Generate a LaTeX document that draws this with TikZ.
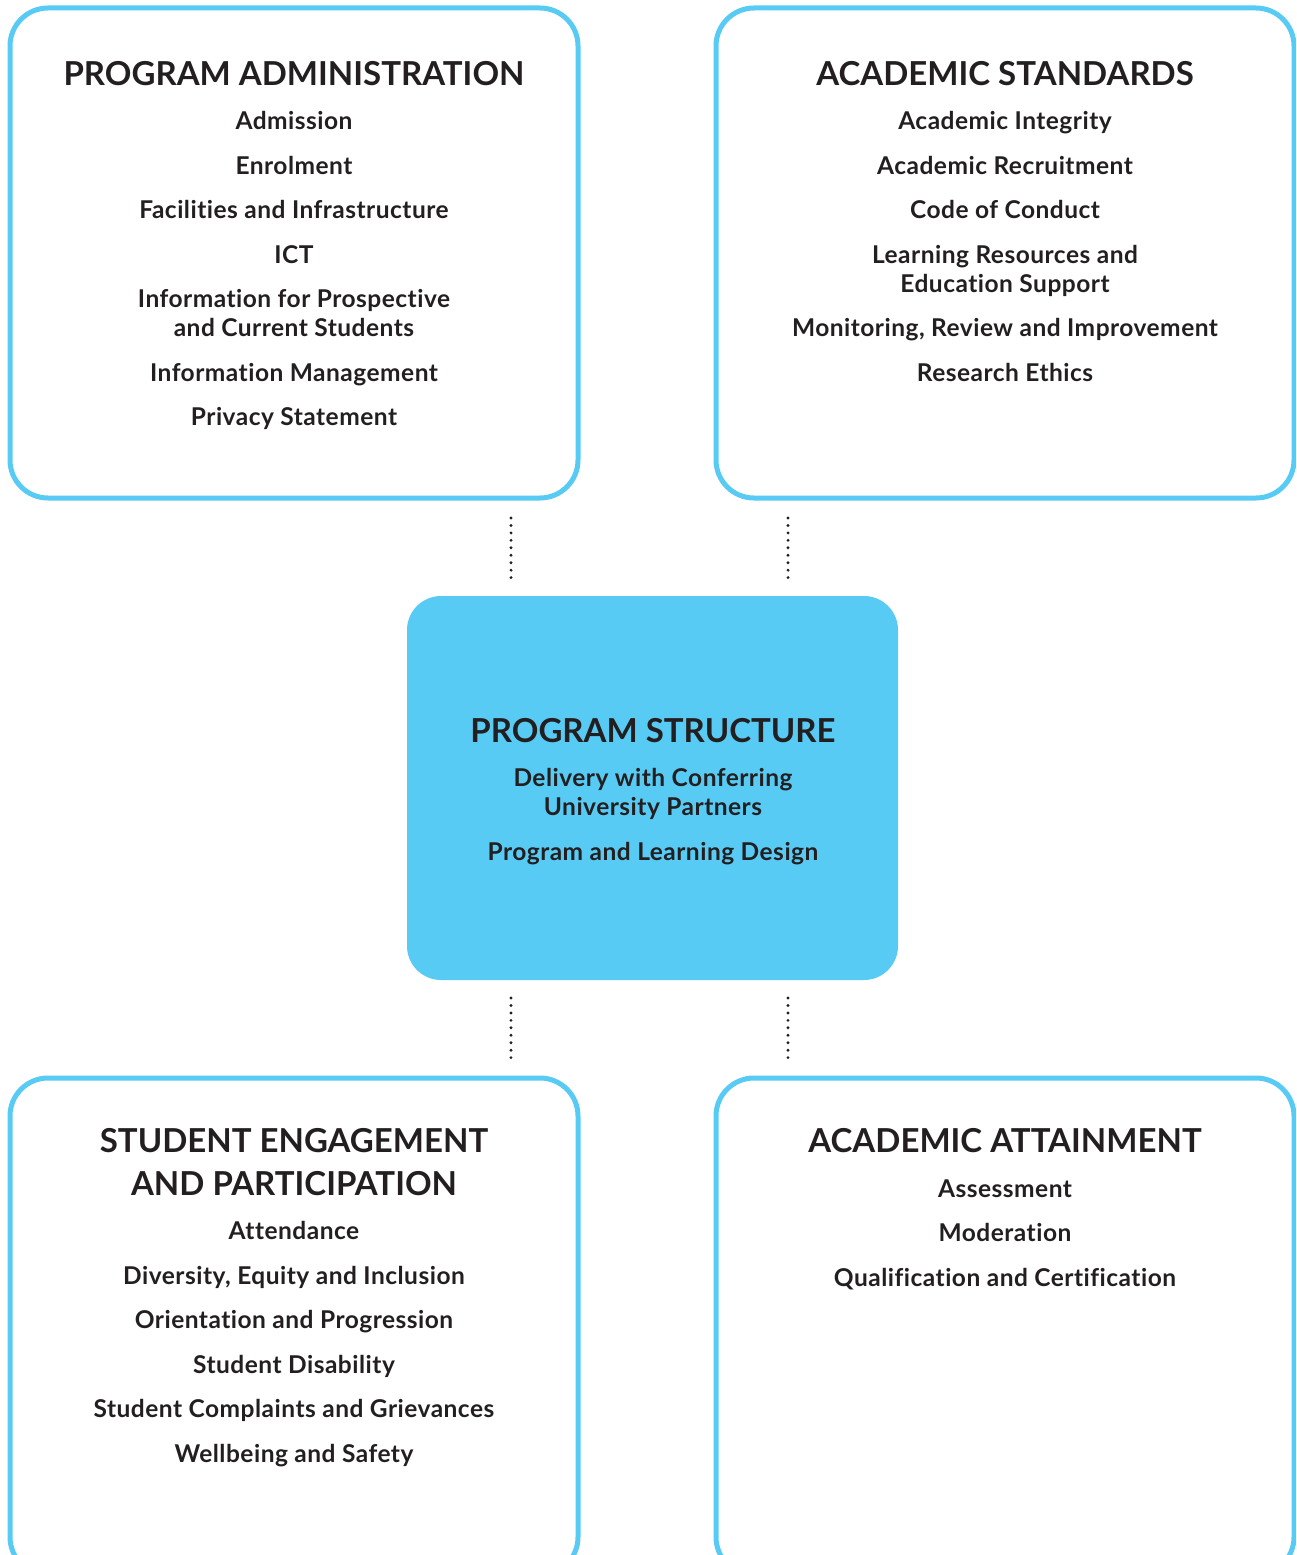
\documentclass[tikz,border=0pt]{standalone}
\usepackage{fontspec}
\setmainfont{Lato}[Ligatures=NoCommon]
\newfontfamily\entryfont{Lato}[LetterSpace=2.0,Ligatures=NoCommon]
\definecolor{skyblue}{HTML}{58CBF5}
\definecolor{ink}{HTML}{231F20}
\begin{document}
\begin{tikzpicture}[x=1pt,y=-1pt,
  frame/.style={draw=skyblue,line width=5pt,rounded corners=38pt},
  core/.style={fill=skyblue,rounded corners=34pt},
  heading/.style={font=\fontsize{33}{43}\selectfont\bfseries,text=ink,align=center,inner sep=0pt},
  entry/.style={font=\entryfont\fontsize{24.5}{29}\selectfont\bfseries,text=ink,align=center,inner sep=0pt,anchor=base},
  link/.style={draw=ink,line width=3.2pt,line cap=round,dash pattern=on 0pt off 7.45pt}]
\useasboundingbox (0,0) rectangle (1296,1555);
\begin{scope}
\clip (0,0) rectangle (1296,1555);
% frames
\draw[frame] (10,8) rectangle (578,498);
\draw[frame] (716,8) rectangle (1294,498);
\draw[frame] (10,1078) rectangle (578,1575);
\draw[frame] (716,1078) rectangle (1294,1575);
\fill[core] (407,596) rectangle (898,980);
\end{scope}
% dotted links
\coordinate (l1a) at (511,518); \coordinate (l1b) at (511,578);
\coordinate (l2a) at (788,518); \coordinate (l2b) at (788,578);
\coordinate (l3a) at (511,998); \coordinate (l3b) at (511,1058);
\coordinate (l4a) at (788,998); \coordinate (l4b) at (788,1058);
\draw[link] (l1a) -- (l1b);
\draw[link] (l2a) -- (l2b);
\draw[link] (l3a) -- (l3b);
\draw[link] (l4a) -- (l4b);
% program administration (entries sit on their last baseline)
\node[heading] (pa) at (294,73.5) {PROGRAM ADMINISTRATION};
\node[entry] (pa1) at (294,129.8) {Admission};
\node[entry] (pa2) at (294,174.8) {Enrolment};
\node[entry] (pa3) at (294,218.8) {Facilities and Infrastructure};
\node[entry] (pa4) at (294,263.8) {ICT};
\node[entry] (pa5) at (294,336.8) {Information for Prospective\\and Current Students};
\node[entry] (pa6) at (294,381.8) {Information Management};
\node[entry] (pa7) at (294,425.8) {Privacy Statement};
% academic standards
\node[heading] (as) at (1005,73.5) {ACADEMIC STANDARDS};
\node[entry] (as1) at (1005,129.8) {Academic Integrity};
\node[entry] (as2) at (1005,174.8) {Academic Recruitment};
\node[entry] (as3) at (1005,218.8) {Code of Conduct};
\node[entry] (as4) at (1005,292.8) {Learning Resources and\\Education Support};
\node[entry] (as5) at (1005,336.8) {Monitoring, Review and Improvement};
\node[entry] (as6) at (1005,381.8) {Research Ethics};
% program structure
\node[heading] (ps) at (653,730.5) {PROGRAM STRUCTURE};
\node[entry] (ps1) at (653,815.8) {Delivery with Conferring\\University Partners};
\node[entry] (ps2) at (653,860.8) {Program and Learning Design};
% student engagement
\node[heading] (se) at (294,1162) {STUDENT ENGAGEMENT\\AND PARTICIPATION};
\node[entry] (se1) at (294,1239.8) {Attendance};
\node[entry] (se2) at (294,1284.8) {Diversity, Equity and Inclusion};
\node[entry] (se3) at (294,1328.8) {Orientation and Progression};
\node[entry] (se4) at (294,1373.8) {Student Disability};
\node[entry] (se5) at (294,1417.8) {Student Complaints and Grievances};
\node[entry] (se6) at (294,1462.8) {Wellbeing and Safety};
% academic attainment
\node[heading] (aa) at (1005,1140.5) {ACADEMIC ATTAINMENT};
\node[entry] (aa1) at (1005,1197.8) {Assessment};
\node[entry] (aa2) at (1005,1241.8) {Moderation};
\node[entry] (aa3) at (1005,1286.8) {Qualification and Certification};
\end{tikzpicture}
\end{document}
